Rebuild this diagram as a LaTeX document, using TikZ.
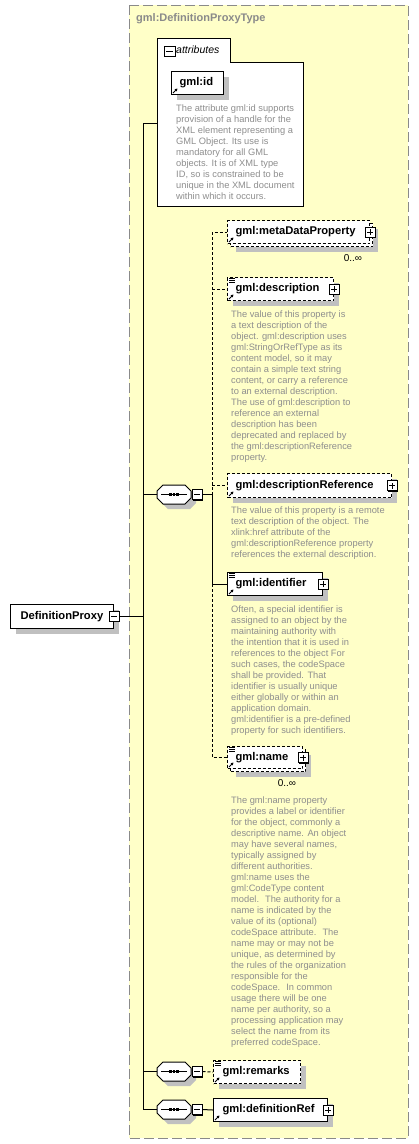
\documentclass[tikz,border=0pt]{standalone}
\usepackage{fontspec}
\setmainfont{Liberation Sans}
\usetikzlibrary{arrows.meta, positioning, shadows}
\definecolor{TypeFill}{HTML}{FFFFC8}
\definecolor{TypeLine}{HTML}{8A8A8A}
\definecolor{DocText}{HTML}{8E8E8E}
\definecolor{ShadowGray}{HTML}{C0C0C0}
\tikzset{
  boxshadow/.style={general shadow={fill=ShadowGray, shadow xshift=5pt, shadow yshift=-5pt}},
  typebox/.style={draw=TypeLine, fill=TypeFill, line width=1pt, dash pattern=on 10pt off 4pt},
  attrbox/.style={draw=black, fill=white, line width=1pt},
  elembase/.style={draw=black, fill=white, line width=1pt, anchor=north west,
    minimum height=23pt, inner xsep=8pt, inner ysep=0pt,
    text width=\dimexpr#1pt-16pt\relax, align=left,
    font=\fontsize{11.2}{13}\selectfont\bfseries},
  elem/.style={elembase=#1, boxshadow},
  optelem/.style={elem=#1, dash pattern=on 3pt off 2pt},
  stackfront/.style={elembase=#1, dash pattern=on 3pt off 2pt},
  pmbox/.style={draw=black, fill=white, line width=1pt, minimum size=10pt, inner sep=0pt,
    general shadow={fill=black, shadow xshift=1pt, shadow yshift=-1pt}},
  minusbox/.style={pmbox, path picture={\draw[line width=1pt]
    ([xshift=2pt]path picture bounding box.west) -- ([xshift=-2pt]path picture bounding box.east);}},
  plusbox/.style={pmbox, path picture={\draw[line width=1pt]
    ([xshift=2pt]path picture bounding box.west) -- ([xshift=-2pt]path picture bounding box.east)
    ([yshift=2pt]path picture bounding box.south) -- ([yshift=-2pt]path picture bounding box.north);}},
  seqbox/.style={minimum width=34pt, minimum height=19pt, inner sep=0pt},
  doc/.style={inner sep=0pt, align=left, text=DocText, font=\fontsize{9.3}{11}\selectfont},
  mult/.style={inner sep=0pt, font=\fontsize{10}{12}\selectfont},
  wire/.style={draw=black, line width=1pt},
  optwire/.style={wire, dash pattern=on 3pt off 2pt},
}
% little glyphs on the element boxes
\newcommand{\refarrow}[1]{\draw[line width=0.9pt, -{Triangle[length=2.6pt, width=2.8pt]}]
  ([xshift=2pt, yshift=2pt]#1.south west) -- ++(4.5,-4.5);}
\newcommand{\contentmark}[1]{\foreach \k in {1.5,3.5,5.5}{\draw[line width=0.6pt]
  ([xshift=2pt, yshift=-\k pt]#1.north west) -- ++(6,0);}}
% sequence compositor: chamfered outline, shadow and the dotted bar
\newcommand{\seqshape}[1]{
  \fill[ShadowGray, shift={(#1.center)}, xshift=5pt, yshift=-5pt]
    (-17,-3.5) -- (-11,-9.5) -- (11,-9.5) -- (17,-3.5) -- (17,3.5) -- (11,9.5) -- (-11,9.5) -- (-17,3.5) -- cycle;
  \draw[line width=1pt, fill=white, shift={(#1.center)}]
    (-17,-3.5) -- (-11,-9.5) -- (11,-9.5) -- (17,-3.5) -- (17,3.5) -- (11,9.5) -- (-11,9.5) -- (-17,3.5) -- cycle;
  \draw[line width=1pt] ([xshift=-13pt]#1.center) -- ([xshift=13pt]#1.center);
  \foreach \d in {-3.4,0,3.4}{\fill ([xshift=\d pt]#1.center) +(-1.4,-1.3) rectangle +(1.4,1.3);}}

\begin{document}
\begin{tikzpicture}[x=1pt, y=-1pt]
  \useasboundingbox (0,0) rectangle (419,1144);

  % the complex type
  \draw[typebox] (129,5) rectangle (408,1138);
  \node[anchor=west, inner sep=0pt, text=TypeLine, font=\fontsize{11}{13}\selectfont\bfseries]
    (typeTitle) at (136,19) {gml:DefinitionProxyType};

  % attributes
  \draw[attrbox] (157,38) -- (230,38) -- (230,62) -- (303,62) -- (303,206) -- (157,206) -- cycle;
  \coordinate (attrs) at (157,123);
  \node[minusbox, minimum width=11pt] (attrM) at (169.5,51) {};
  \node[anchor=west, inner sep=0pt, font=\fontsize{10.5}{12}\selectfont\itshape] (attrLabel) at (176,50) {attributes};
  \node[elem=52] (gmlid) at (171,71) {gml:id};
  \refarrow{gmlid}
  \node[doc, below right=9.5pt and 5pt of gmlid.south west] (gmlidDoc)
    {The attribute gml:id supports\\provision of a handle for the\\XML element representing a\\GML Object. Its use is\\mandatory for all GML\\objects. It is of XML type\\ID, so is constrained to be\\unique in the XML document\\within which it occurs.};

  % root element
  \node[elem=103, minimum height=24pt, inner xsep=10pt, text width=83pt] (proxy) at (10,604) {DefinitionProxy};
  \node[minusbox] (proxyM) at (114,616) {};

  % sequence 1
  \node[seqbox] (seqA) at (174,494.5) {};
  \seqshape{seqA}
  \node[minusbox] (seqAm) at (197,494.5) {};

  \node[optelem=142, anchor=north west] (metaBack) at (230,223) {};
  \node[stackfront=142] (meta) at (227,220) {gml:metaDataProperty};
  \refarrow{meta}
  \node[plusbox] (metaP) at (meta.east) {};
  \node[mult] (metaMult) at (353,258) {0..∞};

  \node[optelem=106] (desc) at (227,277) {gml:description};
  \contentmark{desc}
  \refarrow{desc}
  \node[plusbox] (descP) at (desc.east) {};
  \node[doc, below right=9.5pt and 4pt of desc.south west] (descDoc)
    {The value of this property is\\a text description of the\\object. gml:description uses\\gml:StringOrRefType as its\\content model, so it may\\contain a simple text string\\content, or carry a reference\\to an external description.\\The use of gml:description to\\reference an external\\description has been\\deprecated and replaced by\\the gml:descriptionReference\\property.};

  \node[optelem=164, minimum height=24pt] (descRef) at (227,473) {gml:descriptionReference};
  \refarrow{descRef}
  \node[plusbox] (descRefP) at (descRef.east) {};
  \node[doc, below right=8.5pt and 4pt of descRef.south west] (descRefDoc)
    {The value of this property is a remote\\text description of the object. The\\xlink:href attribute of the\\gml:descriptionReference property\\references the external description.};

  \node[elem=95] (ident) at (227,572) {gml:identifier};
  \contentmark{ident}
  \refarrow{ident}
  \node[plusbox] (identP) at (ident.east) {};
  \node[doc, below right=9.5pt and 4pt of ident.south west] (identDoc)
    {Often, a special identifier is\\assigned to an object by the\\maintaining authority with\\the intention that it is used in\\references to the object For\\such cases, the codeSpace\\shall be provided. That\\identifier is usually unique\\either globally or within an\\application domain.\\gml:identifier is a pre-defined\\property for such identifiers.};

  \node[optelem=75, minimum height=22pt] (nameBack) at (230,749) {};
  \node[stackfront=75, minimum height=22pt] (name) at (227,746) {gml:name};
  \contentmark{name}
  \refarrow{name}
  \node[plusbox] (nameP) at (name.east) {};
  \node[mult] (nameMult) at (287,783) {0..∞};
  \node[doc, anchor=north west] (nameDoc) at (231,796.5)
    {The gml:name property\\provides a label or identifier\\for the object, commonly a\\descriptive name. An object\\may have several names,\\typically assigned by\\different authorities.\\gml:name uses the\\gml:CodeType content\\model.~ The authority for a\\name is indicated by the\\value of its (optional)\\codeSpace attribute.~ The\\name may or may not be\\unique, as determined by\\the rules of the organization\\responsible for the\\codeSpace.~ In common\\usage there will be one\\name per authority, so a\\processing application may\\select the name from its\\preferred codeSpace.};

  % sequence 2 and 3
  \node[seqbox] (seqB) at (174,1071.5) {};
  \seqshape{seqB}
  \node[minusbox] (seqBm) at (197,1071.5) {};
  \node[optelem=87, inner xsep=9pt, text width=69pt] (remarks) at (213,1060) {gml:remarks};
  \contentmark{remarks}
  \refarrow{remarks}

  \node[seqbox] (seqC) at (174,1109.5) {};
  \seqshape{seqC}
  \node[minusbox] (seqCm) at (197,1109.5) {};
  \node[elem=114, inner xsep=9pt, text width=96pt] (defRef) at (213,1098) {gml:definitionRef};
  \refarrow{defRef}
  \node[plusbox] (defRefP) at (defRef.east) {};

  % connectors
  \coordinate (trunk) at (143,123);
  \coordinate (branch) at (212,494.5);
  \draw[wire] (proxyM.east) -- (proxyM.east -| trunk);
  \draw[wire] (trunk) -- (trunk |- seqC.west);
  \draw[wire] (trunk) -- (attrs);
  \draw[wire] (trunk |- seqA.west) -- (seqA.west);
  \draw[wire] (trunk |- seqB.west) -- (seqB.west);
  \draw[wire] (trunk |- seqC.west) -- (seqC.west);
  \draw[wire] (seqAm.east) -- (branch);
  \draw[optwire] (branch) -- (branch |- meta.west) -- (meta.west);
  \draw[optwire] (branch |- desc.west) -- (desc.west);
  \draw[optwire] (branch |- descRef.west) -- (descRef.west);
  \draw[wire] (branch) -- (branch |- ident.west) -- (ident.west);
  \draw[optwire] (branch |- ident.west) -- (branch |- name.west) -- (name.west);
  \draw[optwire] (seqBm.east) -- (remarks.west);
  \draw[wire] (seqCm.east) -- (defRef.west);
\end{tikzpicture}
\end{document}
